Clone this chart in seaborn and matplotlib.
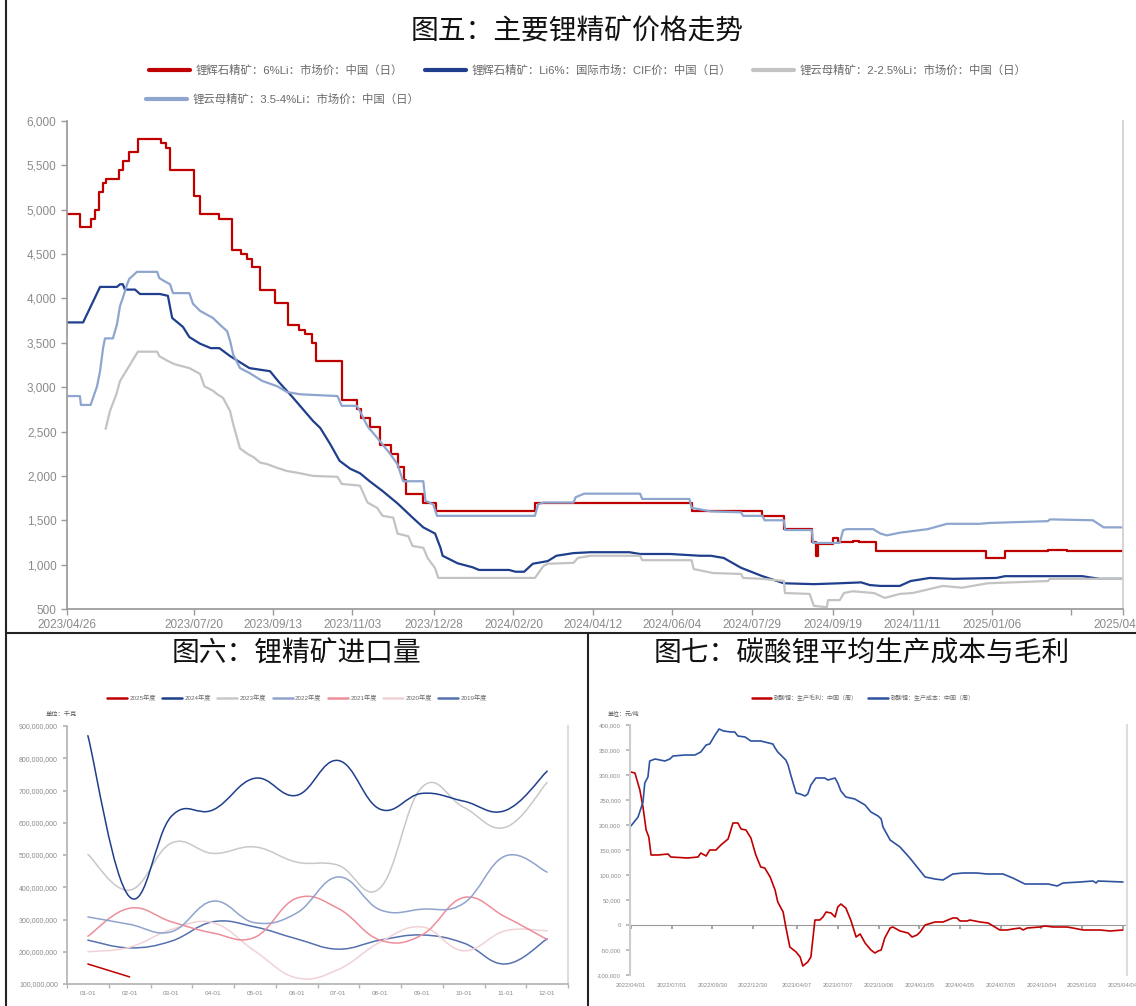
import numpy as np
import pandas as pd
import matplotlib
matplotlib.use("Agg")
import matplotlib.pyplot as plt
import seaborn as sns
from matplotlib.lines import Line2D
from matplotlib.path import Path
from matplotlib.patches import PathPatch
from matplotlib.ticker import FuncFormatter

# ================= DATA =================
# ---- 图五: price index x = trading-day index counted from 2023/04/26 ----
spod_cn = [(0, 4950), (6, 4800), (11, 4900), (13, 5000), (15, 5200), (17, 5300), (18, 5350), (24, 5450),
           (26, 5550), (29, 5650), (33, 5800), (44, 5750), (46, 5700), (48, 5450), (59, 5150), (62, 4950),
           (71, 4900), (77, 4550), (81, 4500), (84, 4450), (86, 4350), (90, 4100), (97, 3950), (103, 3700),
           (108, 3650), (111, 3600), (114, 3500), (116, 3300), (128, 2850), (135, 2750), (137, 2650),
           (141, 2550), (146, 2350), (151, 2250), (154, 2100), (157, 1950), (158, 1800), (166, 1700),
           (172, 1600), (218, 1700), (291, 1600), (324, 1550), (334, 1400), (347, 1250), (349, 1100),
           (350, 1230), (357, 1300), (359, 1250), (366, 1270), (369, 1250), (377, 1150), (428, 1080),
           (437, 1150), (457, 1170), (466, 1150), (492, 1150)]
spod_cif = [(0, 3730), (7.5, 3730), (15.4, 4130), (23.3, 4130), (24.7, 4160), (26, 4160), (27, 4100),
            (31.7, 4100), (34, 4050), (43.3, 4050), (47, 4030), (49, 3780), (54, 3680), (57, 3565), (62, 3490),
            (67, 3440), (71, 3440), (76, 3350), (82, 3260), (85, 3215), (94.6, 3180), (99, 3050), (105, 2890),
            (114.6, 2620), (118, 2540), (122.6, 2360), (127, 2170), (132, 2080), (136.5, 2030), (141, 1940),
            (147, 1830), (154, 1690), (161, 1530), (166, 1420), (171.5, 1350), (174, 1190), (175, 1100),
            (182, 1015), (189, 970), (192, 940), (206, 940), (209, 920), (213, 920), (217, 1010), (224, 1040),
            (228, 1100), (236, 1130), (244, 1140), (262, 1140), (267, 1120), (281, 1120), (295, 1100),
            (300, 1100), (306, 1075), (314, 965), (324, 870), (334, 790), (348, 780), (360, 790), (370, 800),
            (374, 770), (379, 760), (388, 760), (393, 815), (402, 850), (413, 840), (433, 850), (437, 870),
            (473, 870), (481, 840), (492, 840)]
lepi_low = [(18, 2530), (20, 2730), (23, 2920), (24.7, 3070), (28, 3200), (31, 3320), (33, 3400), (42, 3400),
            (43, 3350), (46.6, 3300), (50, 3260), (57, 3215), (62, 3150), (64, 3010), (68, 2960), (70, 2920),
            (72.7, 2880), (76, 2730), (77.4, 2585), (80.6, 2310), (84, 2250), (87, 2210), (88.5, 2180),
            (90, 2150), (93, 2135), (98, 2090), (102.5, 2055), (108.6, 2030), (114.6, 2000), (126, 1990),
            (128, 1910), (136.5, 1890), (140, 1700), (144.5, 1640), (147, 1550), (152, 1530), (154, 1350),
            (159, 1320), (161, 1210), (166, 1190), (168, 1075), (171.5, 960), (173, 850), (218, 850),
            (222, 985), (224, 1010), (236, 1020), (238, 1075), (244, 1100), (267, 1100), (268, 1050),
            (291, 1050), (292, 950), (301, 905), (314, 895), (315, 850), (324, 840), (334, 815), (334.5, 680),
            (346, 670), (348, 535), (354, 520), (354.6, 600), (360, 600), (362, 680), (366, 700), (376, 680),
            (381, 625), (388, 670), (394, 680), (408, 760), (417, 740), (429, 790), (457, 815), (458, 840),
            (492, 840)]
lepi_high = [(0, 2900), (6, 2900), (6.5, 2800), (11, 2800), (14, 3010), (15.4, 3180), (16.8, 3440),
             (17.7, 3550), (21.4, 3550), (23.3, 3710), (24.7, 3915), (26, 4005), (28, 4160), (29, 4220),
             (32.6, 4300), (42, 4300), (43, 4230), (45, 4200), (48, 4160), (49.4, 4060), (57, 4060),
             (58.7, 3940), (62, 3860), (68, 3780), (71, 3710), (74.6, 3630), (76, 3520), (77.4, 3370),
             (80.6, 3215), (85, 3160), (91, 3070), (98, 3010), (102.5, 2945), (108.6, 2920), (126, 2900),
             (128, 2790), (135, 2790), (136.5, 2730), (140, 2560), (144.5, 2430), (150.5, 2250), (154, 2130),
             (156.6, 1940), (166, 1940), (167, 1720), (170.6, 1680), (172.4, 1550), (218, 1550), (219.5, 1680),
             (222, 1700), (236, 1700), (237, 1760), (241, 1800), (267, 1800), (268, 1740), (290, 1740),
             (291, 1640), (300, 1600), (314, 1590), (315, 1550), (324, 1550), (325, 1500), (334, 1500),
             (334.6, 1390), (347, 1390), (347.6, 1245), (360, 1245), (361.6, 1390), (363.5, 1400),
             (375.6, 1400), (379, 1350), (382, 1330), (388, 1360), (401, 1400), (410, 1460), (425, 1460),
             (430, 1470), (457, 1490), (458, 1510), (478, 1500), (483, 1420), (492, 1420)]
price_names = ["锂辉石精矿：6%Li：市场价：中国（日）", "锂辉石精矿：Li6%：国际市场：CIF价：中国（日）",
               "锂云母精矿：2-2.5%Li：市场价：中国（日）", "锂云母精矿：3.5-4%Li：市场价：中国（日）"]
price_tick_idx = [0, 59, 96, 133, 171, 208, 245, 282, 319, 357, 394, 431, 468, 492]
price_tick_labels = ["2023/04/26", "2023/07/20", "2023/09/13", "2023/11/03", "2023/12/28", "2024/02/20",
                     "2024/04/12", "2024/06/04", "2024/07/29", "2024/09/19", "2024/11/11", "2025/01/06",
                     "", "2025/04/25"]

# ---- 图六: monthly import volume (million kg) ----
months = ["01-01", "02-01", "03-01", "04-01", "05-01", "06-01", "07-01", "08-01", "09-01", "10-01", "11-01", "12-01"]
imp_2025 = [162, 122]
imp_2024 = [870, 370, 620, 640, 738, 685, 793, 642, 691, 667, 638, 760]
imp_2023 = [502, 391, 537, 505, 525, 478, 468, 398, 710, 648, 586, 725]
imp_2022 = [308, 285, 262, 357, 290, 320, 432, 330, 332, 350, 497, 447]
imp_2021 = [248, 335, 293, 258, 245, 366, 334, 236, 252, 368, 308, 238]
imp_2020 = [200, 214, 269, 290, 202, 119, 145, 230, 277, 203, 265, 265]
imp_2019 = [236, 212, 233, 293, 277, 240, 208, 236, 252, 227, 162, 240]
year_names = ["2025年度", "2024年度", "2023年度", "2022年度", "2021年度", "2020年度", "2019年度"]

# ---- 图七: lithium carbonate margin / cost (thousand yuan per ton), weekly ----
margin_dates = ["2022-04-01", "2022-04-10", "2022-04-21", "2022-04-28", "2022-05-05", "2022-05-11", "2022-05-16",
                "2022-05-31", "2022-06-23", "2022-06-29", "2022-08-06", "2022-08-29", "2022-09-04", "2022-09-16",
                "2022-09-24", "2022-10-08", "2022-10-19", "2022-11-04", "2022-11-15", "2022-11-26", "2022-12-03",
                "2022-12-14", "2022-12-25", "2023-01-05", "2023-01-16", "2023-01-25", "2023-02-06", "2023-02-17",
                "2023-02-23", "2023-03-07", "2023-03-13", "2023-03-22", "2023-04-05", "2023-04-14", "2023-04-20",
                "2023-05-01", "2023-05-08", "2023-05-17", "2023-05-28", "2023-06-04", "2023-06-11", "2023-06-22",
                "2023-07-01", "2023-07-07", "2023-07-14", "2023-07-25", "2023-08-05", "2023-08-17", "2023-08-26",
                "2023-09-06", "2023-09-19", "2023-09-28", "2023-10-05", "2023-10-12", "2023-10-20", "2023-11-01",
                "2023-11-07", "2023-11-23", "2023-12-11", "2023-12-20", "2023-12-31", "2024-01-07", "2024-01-18",
                "2024-02-02", "2024-02-09", "2024-02-27", "2024-03-20", "2024-03-29", "2024-04-05", "2024-04-21",
                "2024-04-27", "2024-05-20", "2024-06-07", "2024-06-18", "2024-07-03", "2024-07-19", "2024-08-01",
                "2024-08-17", "2024-08-24", "2024-09-02", "2024-10-01", "2024-10-12", "2024-10-30", "2024-11-30",
                "2024-12-13", "2025-01-05", "2025-02-12", "2025-03-06", "2025-04-04"]
margin_vals = [306, 304, 270, 236, 190, 176, 140, 140, 142, 136, 134, 136, 144, 138, 150, 150, 160, 172, 204, 204,
               192, 190, 174, 140, 116, 114, 96, 70, 46, 26, -4, -44, -54, -64, -82, -74, -64, 10, 10, 16,
               26, 24, 16, 36, 42, 34, 10, -24, -18, -36, -50, -56, -52, -50, -26, -6, -4, -12, -16, -24,
               -20, -14, 0, 4, 6, 6, 14, 14, 8, 8, 10, 6, 4, -2, -10, -10, -8, -6, -10, -6,
               -4, -2, -4, -4, -6, -10, -10, -12, -10]
cost_dates = ["2022-04-01", "2022-04-17", "2022-04-28", "2022-05-02", "2022-05-09", "2022-05-13", "2022-05-25",
              "2022-06-16", "2022-06-27", "2022-07-04", "2022-07-31", "2022-08-22", "2022-09-04", "2022-09-16",
              "2022-09-24", "2022-10-06", "2022-10-15", "2022-10-25", "2022-11-10", "2022-11-19", "2022-11-26",
              "2022-12-12", "2022-12-25", "2023-01-16", "2023-01-25", "2023-02-12", "2023-02-17", "2023-02-23",
              "2023-03-13", "2023-03-18", "2023-03-24", "2023-04-05", "2023-04-14", "2023-04-25", "2023-05-01",
              "2023-05-08", "2023-05-19", "2023-06-08", "2023-06-15", "2023-07-01", "2023-07-07", "2023-07-14",
              "2023-07-25", "2023-08-14", "2023-09-06", "2023-09-19", "2023-10-05", "2023-10-12", "2023-10-16",
              "2023-11-01", "2023-11-23", "2023-12-15", "2024-01-02", "2024-01-18", "2024-02-09", "2024-02-27",
              "2024-03-20", "2024-04-12", "2024-05-13", "2024-06-04", "2024-07-10", "2024-08-01", "2024-08-28",
              "2024-10-01", "2024-10-19", "2024-11-08", "2024-11-21", "2024-12-29", "2025-01-27", "2025-02-03",
              "2025-02-07", "2025-04-04"]
cost_vals = [198, 216, 246, 284, 296, 328, 332, 328, 332, 338, 340, 340, 346, 360, 362, 380, 392, 388, 386, 386,
             378, 376, 368, 368, 366, 362, 354, 346, 330, 320, 300, 264, 262, 258, 262, 280, 294, 294, 290, 294,
             284, 268, 256, 252, 240, 226, 218, 212, 196, 170, 156, 134, 114, 96, 92, 90, 102, 104, 104, 102,
             102, 94, 82, 82, 82, 78, 84, 86, 88, 84, 88, 86]
cost_names = ["碳酸锂：生产毛利：中国（周）", "碳酸锂：生产成本：中国（周）"]
cost_tick_dates = ["2022-04-01", "2022-07-01", "2022-09-30", "2022-12-30", "2023-04-07", "2023-07-07",
                   "2023-10-06", "2024-01-05", "2024-04-05", "2024-07-05", "2024-10-04", "2025-01-03", "2025-04-04"]

# ================= STYLE =================
sns.set_theme(style="white")
plt.rcParams["font.family"] = ["Liberation Sans", "Noto Sans CJK SC"]
plt.rcParams["axes.unicode_minus"] = False

W, H = 1136, 1006
fx = lambda px: px / W
fy = lambda py: 1 - py / H

C_RED = "#C00000"
C_NAVY = "#1F3F8C"
C_GRAY = "#C3C3C3"
C_LBLUE = "#8EA5CE"
TICK_C = "#8a8a8a"
AX_C = "#9a9a9a"
TITLE_FONT = ["Noto Sans CJK SC"]

fig = plt.figure(figsize=(W / 100, H / 100), dpi=100)
fig.patch.set_facecolor("white")

comma = FuncFormatter(lambda v, p: f"{int(round(v)):,}")

# ================= 图五 =================
ax1 = fig.add_axes([fx(67), fy(609), fx(1123) - fx(67), fy(121) - fy(609)])
series = [(spod_cn, C_RED, "steps-post"), (spod_cif, C_NAVY, "default"),
          (lepi_low, C_GRAY, "default"), (lepi_high, C_LBLUE, "default")]
for pts, col, ds in series:
    xs = [p[0] for p in pts]
    ys = [p[1] for p in pts]
    sns.lineplot(x=xs, y=ys, ax=ax1, color=col, linewidth=1.6, estimator=None, sort=False, drawstyle=ds)
ax1.set_xlim(0, 492)
ax1.set_ylim(500, 6000)
ax1.set_yticks(np.arange(500, 6001, 500))
ax1.yaxis.set_major_formatter(comma)
ax1.set_xticks(price_tick_idx)
ax1.set_xticklabels(price_tick_labels)
ax1.set_xlabel("")
ax1.set_ylabel("")
ax1.spines["top"].set_visible(False)
ax1.spines["left"].set_color(AX_C)
ax1.spines["bottom"].set_color(AX_C)
ax1.spines["right"].set_color("#cfcfcf")
ax1.tick_params(axis="both", colors=AX_C, labelcolor=TICK_C, labelsize=8.5, length=4, width=1,
                direction="out", left=True, bottom=True)
ax1.tick_params(axis="x", pad=3)

fig.text(fx(577), fy(31), "图五：主要锂精矿价格走势", ha="center", va="center", fontsize=20,
         family=TITLE_FONT, color="#111111")

h = [Line2D([], [], color=c, lw=3) for c in [C_RED, C_NAVY, C_GRAY, C_LBLUE]]
fig.legend([h[0], h[1], h[2]], price_names[:3], loc="center", bbox_to_anchor=(fx(588), fy(70)),
           ncol=3, frameon=False, fontsize=8.2, labelcolor="#6a6a6a", handlelength=3.6,
           handletextpad=0.5, columnspacing=1.9, borderpad=0)
fig.legend([h[3]], price_names[3:], loc="center left", bbox_to_anchor=(fx(146), fy(99)),
           frameon=False, fontsize=8.2, labelcolor="#6a6a6a", handlelength=3.6,
           handletextpad=0.5, borderpad=0, borderaxespad=0)

# ================= 图六 =================
ax2 = fig.add_axes([fx(67), fy(984), fx(568) - fx(67), fy(726) - fy(984)])


def smooth_curve(ax, ys, color, lw):
    xs = np.arange(len(ys), dtype=float)
    ys = np.asarray(ys, dtype=float) * 1e6
    pts = np.column_stack([xs, ys])
    n = len(pts)
    verts = [tuple(pts[0])]
    codes = [Path.MOVETO]
    k = 0.2
    for i in range(n - 1):
        p0 = pts[i - 1] if i > 0 else pts[i]
        p1 = pts[i]
        p2 = pts[i + 1]
        p3 = pts[i + 2] if i + 2 < n else pts[i + 1]
        c1 = p1 + (p2 - p0) * k
        c2 = p2 - (p3 - p1) * k
        verts += [tuple(c1), tuple(c2), tuple(p2)]
        codes += [Path.CURVE4] * 3
    ax.add_patch(PathPatch(Path(verts, codes), fill=False, edgecolor=color, lw=lw,
                           transform=ax.transData, capstyle="round", joinstyle="round"))


imp_cols = ["#C00000", "#1F3F8C", "#C8C8C8", "#8FA3CC", "#EE8E9B", "#F0D2D6", "#5571B0"]
imp_series = [imp_2025, imp_2024, imp_2023, imp_2022, imp_2021, imp_2020, imp_2019]
for ys, col in reversed(list(zip(imp_series, imp_cols))):
    smooth_curve(ax2, ys, col, 1.1)
ax2.set_xlim(-0.5, 11.5)
ax2.set_ylim(1e8, 9e8)
ax2.set_yticks(np.arange(1e8, 9.01e8, 1e8))
ax2.yaxis.set_major_formatter(comma)
ax2.set_xticks(range(12))
ax2.set_xticklabels(months)
ax2.set_xticks(np.arange(-0.5, 12, 1), minor=True)
ax2.spines["top"].set_visible(False)
ax2.spines["left"].set_color("#b5b5b5")
ax2.spines["bottom"].set_color("#b5b5b5")
ax2.spines["right"].set_color("#dddddd")
ax2.spines["right"].set_linewidth(1.5)
ax2.tick_params(axis="y", colors="#b5b5b5", labelcolor=TICK_C, labelsize=5, length=3, left=True)
ax2.tick_params(axis="x", which="major", length=0, labelcolor=TICK_C, labelsize=4.6, pad=5)
ax2.tick_params(axis="x", which="minor", length=3, colors="#b5b5b5", bottom=True)

fig.text(fx(297), fy(654), "图六：锂精矿进口量", ha="center", va="center", fontsize=20,
         family=TITLE_FONT, color="#111111")
h2 = [Line2D([], [], color=c, lw=1.8) for c in imp_cols]
fig.legend(h2, year_names, loc="center", bbox_to_anchor=(fx(297), fy(698)), ncol=7, frameon=False,
           fontsize=4.5, labelcolor="#6a6a6a", handlelength=3.2, handletextpad=0.4, columnspacing=1.0,
           borderpad=0)
fig.text(fx(61), fy(714), "单位：千克", ha="center", va="center", fontsize=4.5, color="#555555")

# ================= 图七 =================
ax3 = fig.add_axes([fx(630), fy(975), fx(1127) - fx(630), fy(725) - fy(975)])
sns.lineplot(x=pd.to_datetime(margin_dates), y=np.array(margin_vals) * 1000, ax=ax3, color=C_RED,
             linewidth=1.2, estimator=None, sort=False)
sns.lineplot(x=pd.to_datetime(cost_dates), y=np.array(cost_vals) * 1000, ax=ax3, color="#2E52A0",
             linewidth=1.2, estimator=None, sort=False)
ax3.set_xlim(pd.Timestamp("2022-03-30"), pd.Timestamp("2025-04-13"))
ax3.set_ylim(-100000, 400000)
ax3.set_yticks(np.arange(-100000, 400001, 50000))
ax3.yaxis.set_major_formatter(comma)
tick_dt = pd.to_datetime(cost_tick_dates)
ax3.set_xticks(tick_dt)
ax3.set_xticklabels([d.strftime("%Y/%m/%d") for d in tick_dt])
ax3.set_xlabel("")
ax3.set_ylabel("")
ax3.spines["top"].set_visible(False)
ax3.spines["bottom"].set_visible(False)
ax3.spines["left"].set_color("#cccccc")
ax3.spines["left"].set_linewidth(1.5)
ax3.spines["right"].set_color("#dddddd")
ax3.spines["right"].set_linewidth(1.5)
ax3.tick_params(axis="y", colors="#b5b5b5", labelcolor=TICK_C, labelsize=4.3, length=3, left=True)
ax3.tick_params(axis="x", length=0, labelcolor=TICK_C, labelsize=4.3, pad=6)
zero_ax = ax3.secondary_xaxis(0.2)
zero_ax.set_xticks(tick_dt)
zero_ax.tick_params(axis="x", labelbottom=False, labeltop=False, length=3, colors="#999999")
zero_ax.spines["bottom"].set_color("#999999")
zero_ax.spines["bottom"].set_linewidth(0.8)

fig.text(fx(862), fy(654), "图七：碳酸锂平均生产成本与毛利", ha="center", va="center", fontsize=20,
         family=TITLE_FONT, color="#111111")
h3 = [Line2D([], [], color=c, lw=1.8) for c in [C_RED, "#2E52A0"]]
fig.legend(h3, cost_names, loc="center", bbox_to_anchor=(fx(863), fy(698)), ncol=2, frameon=False,
           fontsize=4.3, labelcolor="#6a6a6a", handlelength=3.3, handletextpad=0.4, columnspacing=1.8,
           borderpad=0)
fig.text(fx(624), fy(713), "单位：元/吨", ha="center", va="center", fontsize=4.3, color="#555555")

# ================= panel frames =================
frame_kw = dict(color="#222222", lw=1.5, transform=fig.transFigure)
fig.add_artist(Line2D([fx(6), fx(6)], [0, 1], **frame_kw))
fig.add_artist(Line2D([fx(6), 1], [fy(633), fy(633)], **frame_kw))
fig.add_artist(Line2D([fx(588), fx(588)], [0, fy(633)], **frame_kw))

fig.savefig("out.png", dpi=100)
